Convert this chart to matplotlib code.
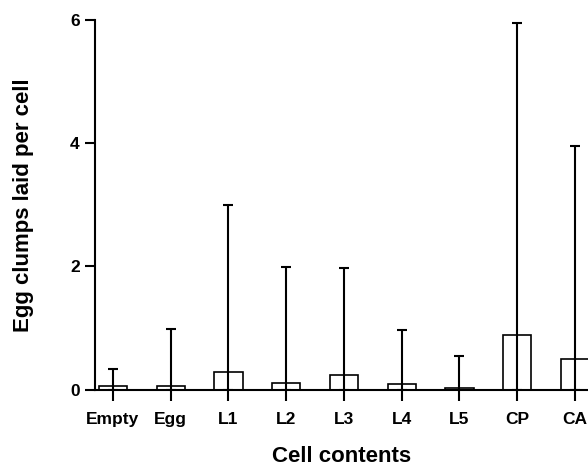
import matplotlib.pyplot as plt
import numpy as np

plt.rcParams['font.family'] = ['Liberation Sans', 'DejaVu Sans']
plt.rcParams['font.weight'] = 'bold'

# cell contents and egg clumps laid per cell (mean, upper error)
cats = ['Empty', 'Egg', 'L1', 'L2', 'L3', 'L4', 'L5', 'CP', 'CA']
means = [0.05, 0.06, 0.29, 0.11, 0.23, 0.09, 0.03, 0.89, 0.50]
sd = [0.29, 0.93, 2.70, 1.88, 1.75, 0.88, 0.52, 5.06, 3.45]

x = np.arange(len(cats))
means = np.array(means)
sd = np.array(sd)

fig = plt.figure(figsize=(5.88, 4.66), dpi=100)
ax = fig.add_axes([0.1616, 0.164, 0.8384, 0.793])

ax.bar(x, means, width=0.49, color='white', edgecolor='black', linewidth=1.2, zorder=2)
ax.errorbar(x, means, yerr=[means, sd], fmt='none', ecolor='black',
            elinewidth=1.5, capsize=3.5, capthick=1.5, zorder=3)

ax.set_xlim(-0.31, 8.225)
ax.set_ylim(0, 6)
ax.set_yticks([0, 2, 4, 6])
ax.set_xticks(x)
ax.set_xticklabels(cats)

ax.spines['top'].set_visible(False)
ax.spines['right'].set_visible(False)
ax.spines['left'].set_linewidth(1.5)
ax.spines['bottom'].set_linewidth(1.5)
ax.tick_params(axis='x', length=8, width=1.5, labelsize=12.5, pad=8)
ax.tick_params(axis='y', length=7, width=1.5, labelsize=12.5, pad=4)

ax.set_xlabel('Cell contents', fontsize=16, fontweight='bold', labelpad=14)
ax.set_ylabel('Egg clumps laid per cell', fontsize=16, fontweight='bold', labelpad=26)

plt.savefig('out.png', dpi=100)
